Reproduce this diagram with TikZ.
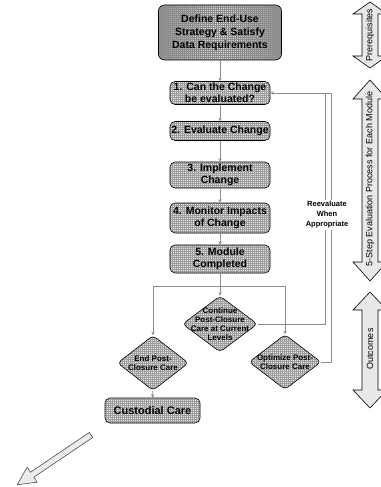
\documentclass[tikz,border=0pt]{standalone}
\usepackage{fontspec}
\setmainfont{Liberation Sans}
\usetikzlibrary{shapes.geometric,arrows.meta,patterns}
\pgfdeclarepatternformonly{finegrid}{\pgfqpoint{-0.5pt}{-0.5pt}}{\pgfqpoint{2.5pt}{2.5pt}}{\pgfqpoint{2pt}{2pt}}{%
  \pgfsetlinewidth{0.3pt}%
  \pgfpathmoveto{\pgfqpoint{0pt}{0pt}}\pgfpathlineto{\pgfqpoint{0pt}{2.01pt}}%
  \pgfpathmoveto{\pgfqpoint{0pt}{0pt}}\pgfpathlineto{\pgfqpoint{2.01pt}{0pt}}%
  \pgfusepath{stroke}}
\begin{document}
\begin{tikzpicture}[x=1pt,y=-1pt,
  gridfill/.style={preaction={fill=gray!20}, preaction={pattern=finegrid, pattern color=black!38}},
  box/.style={draw=black, line width=0.6pt, rounded corners=5pt, gridfill,
    font=\bfseries\fontsize{10.5}{12}\selectfont, align=center, inner sep=0pt, minimum width=100pt},
  topbox/.style={draw=black, line width=0.6pt, rounded corners=6pt,
    preaction={left color=black!42, right color=black!42, middle color=gray!22},
    preaction={pattern=finegrid, pattern color=black!45},
    font=\bfseries\fontsize{10.5}{13}\selectfont, align=center, inner sep=0pt},
  dia/.style={diamond, draw=black, line width=0.6pt, rounded corners=4pt, gridfill, inner sep=0pt},
  dtext/.style={font=\bfseries\fontsize{8}{9}\selectfont, align=center, inner sep=0pt},
  conn/.style={draw=gray!90, line width=0.7pt},
  arr/.style={-{Stealth[length=3.5pt,width=3.5pt]}},
  bigarrow/.style={draw=black, line width=0.6pt, fill=gray!18},
  sidetext/.style={font=\fontsize{9}{10}\selectfont, rotate=90, inner sep=0pt},
  reevtext/.style={fill=white, font=\bfseries\fontsize{7.5}{10}\selectfont, align=center, inner sep=1.5pt}
]
\useasboundingbox (0,0) rectangle (380,487);

% main boxes
\node[topbox, minimum width=123pt, minimum height=55pt] (def) at (220,32.5) {Define End-Use\\Strategy \& Satisfy\\Data Requirements};
\node[box, minimum height=23pt] (b1) at (220,93) {1. Can the Change\\be evaluated?};
\node[box, minimum height=19pt] (b2) at (220,131) {2. Evaluate Change};
\node[box, minimum height=26pt] (b3) at (220,175) {3. Implement\\Change};
\node[box, minimum height=30pt] (b4) at (220,218) {4. Monitor Impacts\\of Change};
\node[box, minimum height=28pt] (b5) at (220,259) {5. Module\\Completed};

% diamonds
\node[dia, minimum width=75pt, minimum height=56pt] (cont) at (220,324) {};
\node[dtext] (contt) at (cont) {Continue\\Post-Closure\\Care at Current\\Levels};
\node[dia, minimum width=71pt, minimum height=55pt] (endc) at (153,363) {};
\node[dtext] (endct) at (endc) {End Post-\\Closure Care};
\node[dia, minimum width=72pt, minimum height=55pt] (opt) at (285,362) {};
\node[dtext] (optt) at (opt) {Optimize Post-\\Closure Care};
\node[box, minimum width=95pt, minimum height=25pt, font=\bfseries\fontsize{11}{12}\selectfont] (cust) at (152.5,410.5) {Custodial Care};

% connectors
\draw[conn,arr] (def) -- (b1);
\draw[conn,arr] (b1) -- (b2);
\draw[conn,arr] (b2) -- (b3);
\draw[conn,arr] (b3) -- (b4);
\draw[conn,arr] (b4) -- (b5);
\coordinate (j) at (220,286);
\draw[conn] (b5) -- (j);
\draw[conn,arr] (j) -- (cont.north);
\draw[conn,arr] (j) -| (endc.north);
\draw[conn,arr] (j) -| (opt.north);
\draw[conn,arr] (endc) -- (cust);

% reevaluate loop
\coordinate (ri) at (325,93);
\coordinate (ro) at (331,93);
\draw[conn] (cont.east) -| (ri);
\draw[conn,arr] (opt.east) -| (ro) -- (b1.east);
\node[reevtext] (reev) at (327,215) {Reevaluate\\When\\Appropriate};

% side arrows
\draw[bigarrow] (370,2) -- (387,14) -- (378,14) -- (378,56) -- (387,56) -- (370,68) -- (353,56) -- (362,56) -- (362,14) -- (353,14) -- cycle;
\node[sidetext] (pre) at (370,35) {Prerequisites};
\draw[bigarrow] (370,80) -- (387,99) -- (378,99) -- (378,262) -- (387,262) -- (370,281) -- (353,262) -- (362,262) -- (362,99) -- (353,99) -- cycle;
\node[sidetext] (five) at (370,179) {5-Step Evaluation Process for Each Module};
\draw[bigarrow] (370,292) -- (387,310) -- (378,310) -- (378,390) -- (387,390) -- (370,408) -- (353,390) -- (362,390) -- (362,310) -- (353,310) -- cycle;
\node[sidetext] (outc) at (370,349) {Outcomes};

% lower-left arrow
\begin{scope}[shift={(91,435)}, rotate=214]
\draw[draw=black!70, line width=0.6pt, fill=gray!15] (0pt,3pt) -- (71pt,3pt) -- (71pt,9pt) -- (89pt,0pt) -- (71pt,-9pt) -- (71pt,-3pt) -- (0pt,-3pt) -- cycle;
\end{scope}
\end{tikzpicture}
\end{document}
